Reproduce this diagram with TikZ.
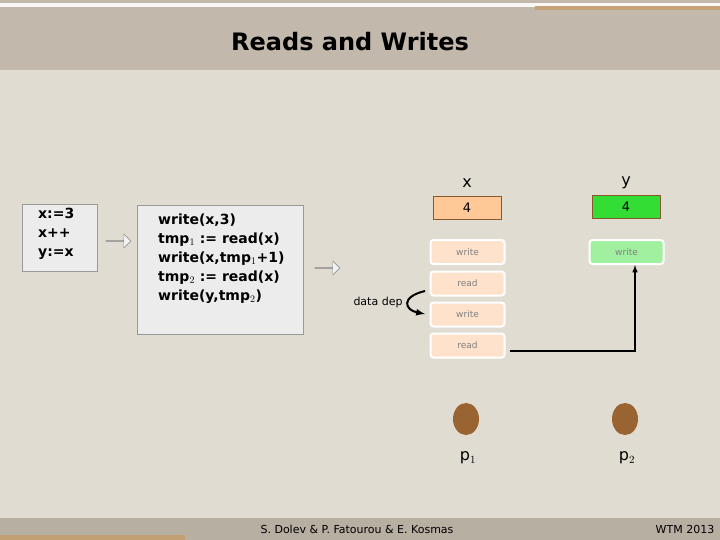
\documentclass[tikz,border=0pt]{standalone}
\usepackage{fontspec}
\setmainfont{DejaVu Sans}
\usetikzlibrary{shapes.arrows,shapes.geometric}
\definecolor{bg}{HTML}{E0DCD2}
\definecolor{band}{HTML}{C2B8AC}
\definecolor{foot}{HTML}{B8AFA3}
\definecolor{stripe}{HTML}{C89860}
\definecolor{peach}{HTML}{FFC896}
\definecolor{lpeach}{HTML}{FFE2CC}
\definecolor{grn}{HTML}{33DD33}
\definecolor{lgrn}{HTML}{A0F0A0}
\definecolor{brn}{HTML}{9A6432}
\begin{document}
\begin{tikzpicture}[x=1pt,y=-1pt,
  code/.style={draw=gray!80,fill=gray!15,line width=0.6pt},
  hollow/.style={single arrow,draw=gray,fill=gray!10,minimum height=25pt,minimum width=14pt,single arrow head extend=3pt,inner sep=0pt},
  val/.style={draw=brown!70!black,minimum width=68pt,minimum height=23pt,inner sep=0pt,font=\fontsize{13}{13}\selectfont},
  op/.style={draw=white,line width=2pt,rounded corners=3pt,minimum width=74pt,minimum height=24pt,inner sep=0pt,text=gray,font=\fontsize{9}{9}\selectfont},
  proc/.style={ellipse,fill=brn,minimum width=26pt,minimum height=32pt,inner sep=0pt},
  lab/.style={font=\fontsize{16}{16}\selectfont}]
\useasboundingbox (0,0) rectangle (720,540);
\fill[bg] (0,0) rectangle (720,540);
\fill[band] (0,0) rectangle (720,3);
\fill[white!80!bg] (0,3) rectangle (720,7);
\fill[band] (0,7) rectangle (720,70);
\fill[stripe!70!band] (535,6) rectangle (720,10);
\fill[foot] (0,518) rectangle (720,540);
\fill[stripe!70!foot] (0,535) rectangle (185,540);
\node[font=\bfseries\fontsize{24}{24}\selectfont] (title) at (350,42) {Reads and Writes};
% boxes
\draw[code] (22,204) rectangle (97,271);
\node[anchor=north west,align=left,font=\bfseries\fontsize{14}{19}\selectfont,inner sep=0pt] (c1) at (38,208) {x:=3\\x++\\y:=x};
\node[hollow] (a1) at (118,241) {};
\draw[code] (137,205) rectangle (303,334);
\node[anchor=north west,align=left,font=\bfseries\fontsize{14}{19}\selectfont,inner sep=0pt] (c2) at (158,214)
 {write(x,3)\\tmp$_1$ := read(x)\\write(x,tmp$_1$+1)\\tmp$_2$ := read(x)\\write(y,tmp$_2$)};
\node[hollow] (a2) at (327,268) {};
% registers
\node[lab] (xl) at (467,183) {x};
\node[lab] (yl) at (626,183) {y};
\node[val,fill=peach] (xv) at (467,207.5) {4};
\node[val,fill=grn] (yv) at (626,207) {4};
\node[op,fill=lpeach] (w1) at (467.5,252) {write};
\node[op,fill=lpeach] (r1) at (467.5,283.5) {read};
\node[op,fill=lpeach] (w2) at (467.5,314.5) {write};
\node[op,fill=lpeach] (r2) at (467.5,345.5) {read};
\node[op,fill=lgrn] (wy) at (626.5,252) {write};
\coordinate (s) at (510,351);
\coordinate (c) at (635,351);
\draw[line width=1.5pt,-latex] (s) -- (c) -- (wy.south -| c);
\node[font=\fontsize{11}{11}\selectfont] (dd) at (378,302) {data dep};
\draw[line width=2pt,-latex] (425,291) .. controls (400,297) and (405,310) .. (425,314);
% processes
\node[proc] (p1) at (466,419) {};
\node[proc] (p2) at (625,419) {};
\node[lab] (p1l) at (468,458) {p$_1$};
\node[lab] (p2l) at (627,458) {p$_2$};
\node[font=\fontsize{11}{11}\selectfont] (f1) at (357,529) {S. Dolev \& P. Fatourou \& E. Kosmas};
\node[font=\fontsize{11}{11}\selectfont] (f2) at (685,529) {WTM 2013};
\end{tikzpicture}
\end{document}
